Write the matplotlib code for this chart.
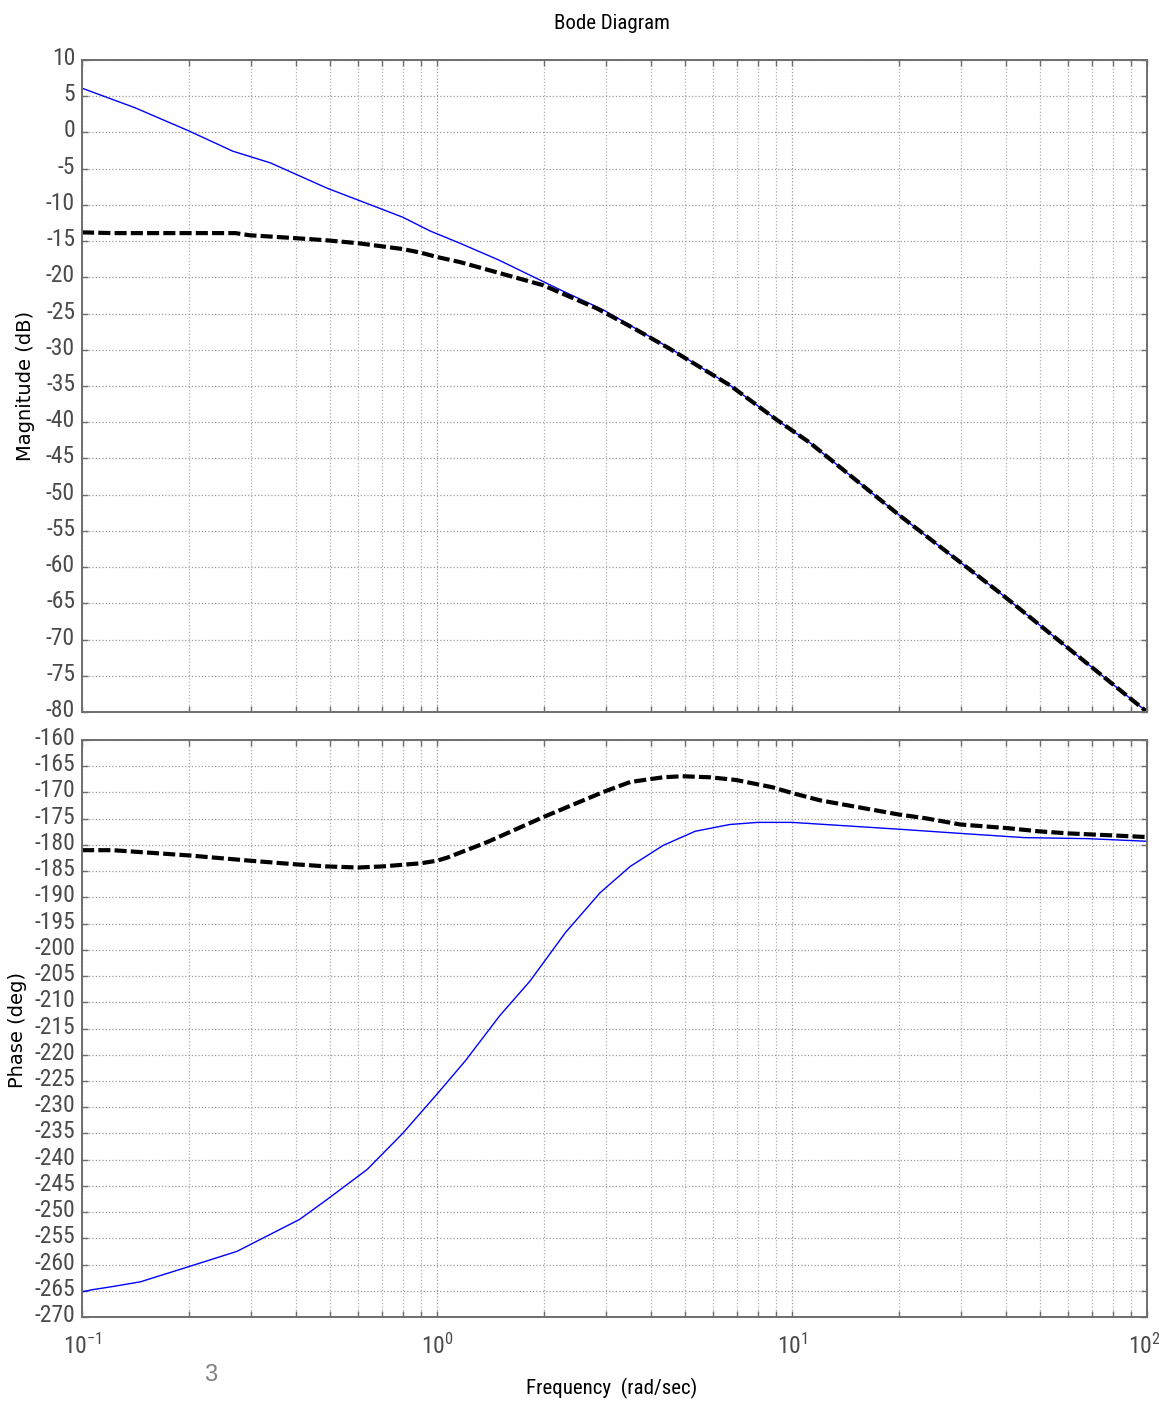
import numpy as np
import matplotlib
matplotlib.use('Agg')
import matplotlib.pyplot as plt
from matplotlib import font_manager
from matplotlib.transforms import ScaledTranslation
from matplotlib.ticker import LogLocator, FixedLocator, NullFormatter

# ----------------------------------------------------------------- data
# magnitude, open loop (blue)
w_mag_ol = [0.1, 0.141, 0.2, 0.266, 0.339, 0.49, 0.8, 0.955, 1.16, 1.49, 1.79,
            2.26, 2.94, 4.53, 6.68, 9.07, 11.2, 20, 38.6, 100]
mag_ol = [6.1, 3.4, 0.2, -2.6, -4.2, -7.7, -11.7, -13.6, -15.3, -17.6, -19.5,
          -21.9, -24.5, -29.8, -34.9, -39.7, -42.8, -52.8, -63.6, -80.0]

# magnitude, compensated (black dashed)
w_mag_c = [0.1, 0.122, 0.2, 0.27, 0.297, 0.4, 0.49, 0.6, 0.8, 0.9, 1.0, 1.16,
           1.47, 1.99, 2.82, 3.6, 4.5, 6.68, 9.07, 11.2, 20, 38.6, 100]
mag_c = [-13.8, -13.9, -13.9, -13.9, -14.2, -14.6, -14.9, -15.3, -16.1, -16.6,
         -17.2, -17.9, -19.3, -21.1, -24.3, -27.1, -29.8, -34.9, -39.7, -42.8,
         -52.8, -63.6, -80.0]

# phase, open loop (blue)
w_ph_ol = [0.1, 0.107, 0.122, 0.146, 0.2, 0.273, 0.41, 0.49, 0.635, 0.8, 1.0,
           1.2, 1.5, 1.83, 2.3, 2.88, 3.5, 4.33, 5.33, 6.68, 8.0, 10, 20, 29.8,
           45, 68, 100]
ph_ol = [-265.2, -264.8, -264.2, -263.3, -260.4, -257.5, -251.4, -247.6,
         -241.9, -235.0, -227.5, -221.2, -212.6, -205.9, -196.7, -189.1,
         -184.1, -180.1, -177.4, -176.1, -175.7, -175.7, -177.0, -177.8,
         -178.6, -178.8, -179.3]

# phase, compensated (black dashed)
w_ph_c = [0.1, 0.122, 0.2, 0.297, 0.4, 0.49, 0.6, 0.7, 0.9, 1.0, 1.07, 1.38,
          1.99, 2.94, 3.5, 4.33, 4.9, 5.87, 6.93, 8.8, 10, 12, 20, 23.7, 29.8,
          40.5, 49.5, 60, 81, 100]
ph_c = [-181.0, -181.0, -182.0, -183.0, -183.7, -184.1, -184.3, -184.1,
        -183.5, -183.0, -182.4, -179.5, -174.7, -169.9, -168.0, -167.1,
        -166.9, -167.1, -167.6, -169.0, -170.1, -171.5, -174.2, -174.9,
        -176.1, -176.8, -177.4, -177.8, -178.2, -178.5]

mag_ticks = list(range(10, -81, -5))
ph_ticks = list(range(-160, -271, -5))
dec_ticks = [0.1, 1, 10, 100]
dec_labels = ['$10^{-1}$', '$10^{0}$', '$10^{1}$', '$10^{2}$']

# ----------------------------------------------------------------- style
# condensed face for ticks / titles, plain sans for the y labels
names = {f.name for f in font_manager.fontManager.ttflist}
cond = 'DejaVu Sans'
for cand in ['Liberation Sans Narrow', 'Roboto Condensed', 'Open Sans Condensed',
             'Noto Sans Condensed', 'DejaVu Sans Condensed']:
    if cand in names:
        cond = cand
        break

plt.rcParams['font.family'] = [cond, 'DejaVu Sans']
plt.rcParams['font.stretch'] = 'condensed'
plt.rcParams['axes.unicode_minus'] = False
plt.rcParams['mathtext.fontset'] = 'custom'
plt.rcParams['mathtext.rm'] = cond + ':stretch=condensed'
plt.rcParams['mathtext.it'] = cond + ':stretch=condensed'

grey_txt = '#4a4a4a'
grey_ax = '#6e6e6e'
dash = (0, (2.9, 1.0))

fig = plt.figure(figsize=(11.59, 14.04), dpi=100)
ax1 = fig.add_axes([0.0708, 0.4929, 0.9189, 0.4644])
ax2 = fig.add_axes([0.0708, 0.0620, 0.9189, 0.4109])

ax1.plot(w_mag_ol, mag_ol, color='#0000ff', lw=1.0)
ax1.plot(w_mag_c, mag_c, color='black', lw=3.0, linestyle=dash)
ax2.plot(w_ph_ol, ph_ol, color='#0000ff', lw=1.0)
ax2.plot(w_ph_c, ph_c, color='black', lw=3.0, linestyle=dash)

ax1.set_ylim(-80, 10)
ax2.set_ylim(-270, -160)

for ax, ticks in ((ax1, mag_ticks), (ax2, ph_ticks)):
    ax.set_xscale('log')
    ax.set_xlim(0.1, 100)
    ax.yaxis.set_major_locator(FixedLocator(ticks))
    ax.set_xticks(dec_ticks)
    ax.set_xticklabels(dec_labels)
    ax.xaxis.set_minor_locator(LogLocator(base=10, subs=np.arange(2, 10)))
    ax.xaxis.set_minor_formatter(NullFormatter())
    ax.grid(True, which='major', color='#9a9a9a', linestyle=':', lw=0.9)
    ax.grid(True, which='minor', axis='x', color='#b0b0b0', linestyle=':', lw=0.9)
    ax.tick_params(which='both', direction='in', top=True, right=True,
                   length=4, width=1.0, color=grey_ax, labelcolor=grey_txt,
                   labelsize=17, pad=5)
    for s in ax.spines.values():
        s.set_color(grey_ax)
        s.set_linewidth(1.4)

ax1.tick_params(labelbottom=False)
ax2.tick_params(axis='x', pad=12)

# y tick labels sit a little above their grid lines
lift = ScaledTranslation(0, 4 / 100, fig.dpi_scale_trans)
for ax in (ax1, ax2):
    for lab in ax.get_yticklabels():
        lab.set_transform(lab.get_transform() + lift)
# keep the 10^2 label inside the figure
last = ax2.get_xticklabels()[-1]
last.set_transform(last.get_transform() + ScaledTranslation(-3 / 100, 0, fig.dpi_scale_trans))

fig.text(0.528, 0.9830, 'Bode Diagram', ha='center', va='center',
         fontsize=15, color='black')
fig.text(0.528, 0.0114, 'Frequency  (rad/sec)', ha='center', va='center',
         fontsize=15, color='black')
fig.text(0.0224, 0.725, 'Magnitude (dB)', rotation=90, ha='center',
         va='center', fontsize=14, stretch='normal',
         family=['DejaVu Sans'])
fig.text(0.0147, 0.2664, 'Phase (deg)', rotation=90, ha='center',
         va='center', fontsize=14, stretch='normal',
         family=['DejaVu Sans'])
fig.text(0.182, 0.0206, '3', ha='center', va='center', fontsize=17,
         color='#808080', stretch='normal',
         family=['Liberation Sans', 'DejaVu Sans'])

fig.savefig('out.png', dpi=100, facecolor='white')
